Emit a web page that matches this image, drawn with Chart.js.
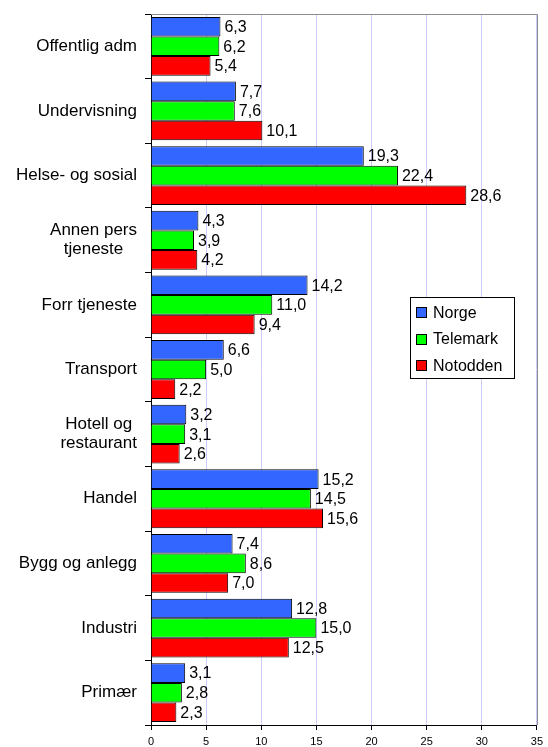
<!DOCTYPE html>
<html>
<head>
<meta charset="utf-8">
<script src="https://cdn.jsdelivr.net/npm/chart.js@4/dist/chart.umd.min.js"></script>
<style>
  body { margin: 0; background: #fff; }
</style>
</head>
<body>
<canvas id="chart" width="548" height="747"></canvas>
<script>
// Data
const categories = [
    'Offentlig adm', 'Undervisning', 'Helse- og sosial', ['Annen pers', 'tjeneste'],
    'Forr tjeneste', 'Transport', ['Hotell og', 'restaurant'], 'Handel',
    'Bygg og anlegg', 'Industri', 'Primær'
];
const norge    = [6.3, 7.7, 19.3, 4.3, 14.2, 6.6, 3.2, 15.2, 7.4, 12.8, 3.1];
const telemark = [6.2, 7.6, 22.4, 3.9, 11.0, 5.0, 3.1, 14.5, 8.6, 15.0, 2.8];
const notodden = [5.4, 10.1, 28.6, 4.2, 9.4, 2.2, 2.6, 15.6, 7.0, 12.5, 2.3];
const xTicks = [0, 5, 10, 15, 20, 25, 30, 35];

const FONT = '"Liberation Sans", Arial, sans-serif';

// Category labels: block right-aligned, lines centred inside the block
const yLabels = {
    id: 'yLabels',
    afterDraw(chart) {
        const ctx = chart.ctx;
        const y = chart.scales.y;
        ctx.save();
        ctx.font = '17px ' + FONT;
        ctx.fillStyle = '#000';
        ctx.textAlign = 'center';
        ctx.textBaseline = 'middle';
        categories.forEach((lab, i) => {
            const lines = Array.isArray(lab) ? lab : [lab];
            const w = Math.max(...lines.map(l => ctx.measureText(l).width));
            const cx = 137 - w / 2;
            const cy = y.getPixelForValue(i);
            const lh = 19;
            lines.forEach((l, j) => {
                ctx.fillText(l, cx, cy + (j - (lines.length - 1) / 2) * lh);
            });
        });
        ctx.restore();
    }
};

// Grey frame on top and right of plot area
const frame = {
    id: 'frame',
    beforeDatasetsDraw(chart) {
        const { ctx, chartArea: a } = chart;
        ctx.save();
        ctx.strokeStyle = '#8c8c8c';
        ctx.lineWidth = 1;
        ctx.beginPath();
        ctx.moveTo(a.left, Math.round(a.top) + 0.5);
        ctx.lineTo(Math.round(a.right) + 0.5, Math.round(a.top) + 0.5);
        ctx.lineTo(Math.round(a.right) + 0.5, a.bottom);
        ctx.stroke();
        ctx.restore();
    }
};

// Value labels at bar ends
const valueLabels = {
    id: 'valueLabels',
    afterDatasetsDraw(chart) {
        const ctx = chart.ctx;
        ctx.save();
        ctx.font = '16px ' + FONT;
        ctx.fillStyle = '#000';
        ctx.textAlign = 'left';
        ctx.textBaseline = 'middle';
        chart.data.datasets.forEach((ds, di) => {
            chart.getDatasetMeta(di).data.forEach((bar, i) => {
                ctx.fillText(ds.data[i].toFixed(1).replace('.', ','), bar.x + 4, bar.y + 1);
            });
        });
        ctx.restore();
    }
};

// Boxed legend inside plot
const boxLegend = {
    id: 'boxLegend',
    afterDraw(chart) {
        const ctx = chart.ctx;
        const bx = 410.5, by = 297.5, bw = 104, bh = 81;
        ctx.save();
        ctx.fillStyle = '#fff';
        ctx.fillRect(bx, by, bw, bh);
        ctx.strokeStyle = '#000';
        ctx.lineWidth = 1;
        ctx.strokeRect(bx, by, bw, bh);
        ctx.font = '16px ' + FONT;
        ctx.textBaseline = 'middle';
        chart.data.datasets.forEach((ds, i) => {
            const cy = by + 15 + i * 26.5;
            ctx.fillStyle = ds.backgroundColor;
            ctx.fillRect(417, Math.round(cy - 4.5), 9, 9);
            ctx.strokeRect(416.5, Math.round(cy - 4.5) - 0.5, 10, 10);
            ctx.fillStyle = '#000';
            ctx.fillText(ds.label, 433, cy + 1);
        });
        ctx.restore();
    }
};

new Chart(document.getElementById('chart'), {
    type: 'bar',
    data: {
        labels: categories,
        datasets: [
            { label: 'Norge', data: norge, backgroundColor: '#3366ff' },
            { label: 'Telemark', data: telemark, backgroundColor: '#00ff00' },
            { label: 'Notodden', data: notodden, backgroundColor: '#ff0000' }
        ].map(d => ({ ...d, borderColor: '#000', borderWidth: 1, categoryPercentage: 0.91, barPercentage: 1 }))
    },
    options: {
        indexAxis: 'y',
        responsive: false,
        animation: false,
        devicePixelRatio: 1,
        layout: { padding: { top: 14, right: 11, left: 0, bottom: 0 } },
        plugins: { legend: { display: false }, tooltip: { enabled: false } },
        scales: {
            x: {
                min: xTicks[0],
                max: xTicks[xTicks.length - 1],
                afterBuildTicks: s => { s.ticks = xTicks.map(v => ({ value: v })); },
                afterFit: s => { s.height = 22; },
                ticks: { color: '#000', font: { size: 11, family: FONT }, padding: 5, maxRotation: 0 },
                grid: { color: '#ccccff', tickColor: '#000', tickLength: 5 },
                border: { color: '#000' }
            },
            y: {
                afterFit: s => { s.width = 151; },
                ticks: { display: false },
                grid: { drawOnChartArea: false, color: '#000', tickLength: 6, offset: true },
                border: { color: '#000' }
            }
        }
    },
    plugins: [frame, valueLabels, yLabels, boxLegend]
});
</script>
</body>
</html>
